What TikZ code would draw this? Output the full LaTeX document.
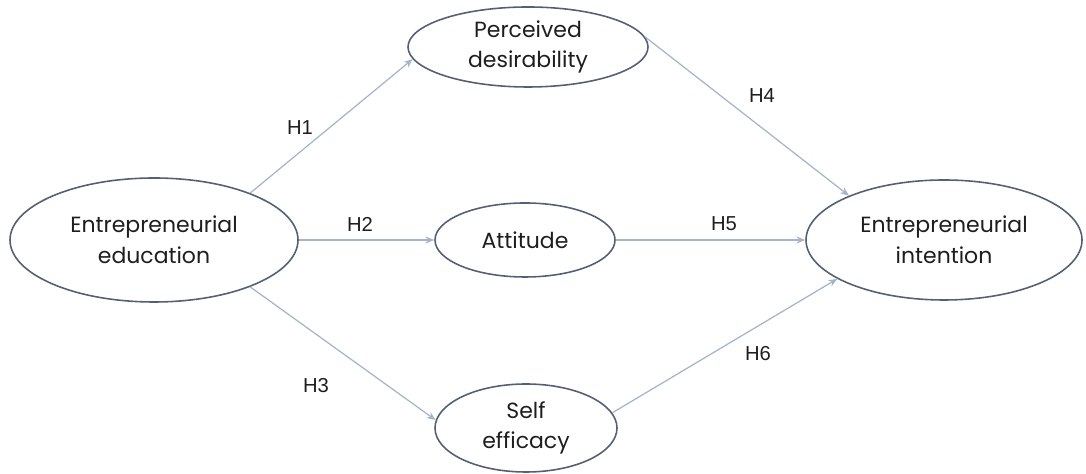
\documentclass[tikz,border=0pt]{standalone}
\usepackage{fontspec}
\setmainfont{Poppins}
\newfontfamily\labelfont{Liberation Sans}
\usetikzlibrary{shapes.geometric,arrows.meta}
\definecolor{rim}{RGB}{85,95,115}
\definecolor{link}{RGB}{165,180,200}
\definecolor{ink}{RGB}{30,30,30}
\tikzset{
  construct/.style={ellipse, draw=rim, line width=0.9pt, inner sep=0pt, align=center,
    text=ink, font=\fontsize{12.5}{17.5}\selectfont},
  path/.style={draw=link, line width=0.7pt, -{Stealth[length=5pt,width=4pt]}},
  hyp/.style={text=ink, font=\labelfont\fontsize{11.5}{13}\selectfont}
}
\begin{document}
\begin{tikzpicture}
\useasboundingbox (0,0) rectangle (21.72,9.48);
\node[construct, minimum width=5.76cm, minimum height=2.48cm] (edu) at (3.08,4.68) {Entrepreneurial\\education};
\node[construct, minimum width=4.8cm, minimum height=1.6cm] (des) at (10.56,8.54) {Perceived\\desirability};
\node[construct, minimum width=3.6cm, minimum height=1.48cm] (att) at (10.5,4.68) {Attitude};
\node[construct, minimum width=3.64cm, minimum height=1.76cm] (eff) at (10.52,0.92) {Self\\efficacy};
\node[construct, minimum width=5.52cm, minimum height=2.4cm] (int) at (18.88,4.68) {Entrepreneurial\\intention};

\draw[path] (edu.26) -- (des.186);
\draw[path] (edu.east) -- (att.west);
\draw[path] (edu.-26) -- (eff.175);
\draw[path] (des.5) -- (int.155);
\draw[path] (att.east) -- (int.west);
\draw[path] (eff.10) -- (int.200);

\node[hyp] (h1) at (6.0,6.92) {H1};
\node[hyp] (h2) at (7.2,5.0) {H2};
\node[hyp] (h3) at (6.32,1.76) {H3};
\node[hyp] (h4) at (15.24,7.56) {H4};
\node[hyp] (h5) at (14.48,5.0) {H5};
\node[hyp] (h6) at (15.16,2.4) {H6};
\end{tikzpicture}
\end{document}
